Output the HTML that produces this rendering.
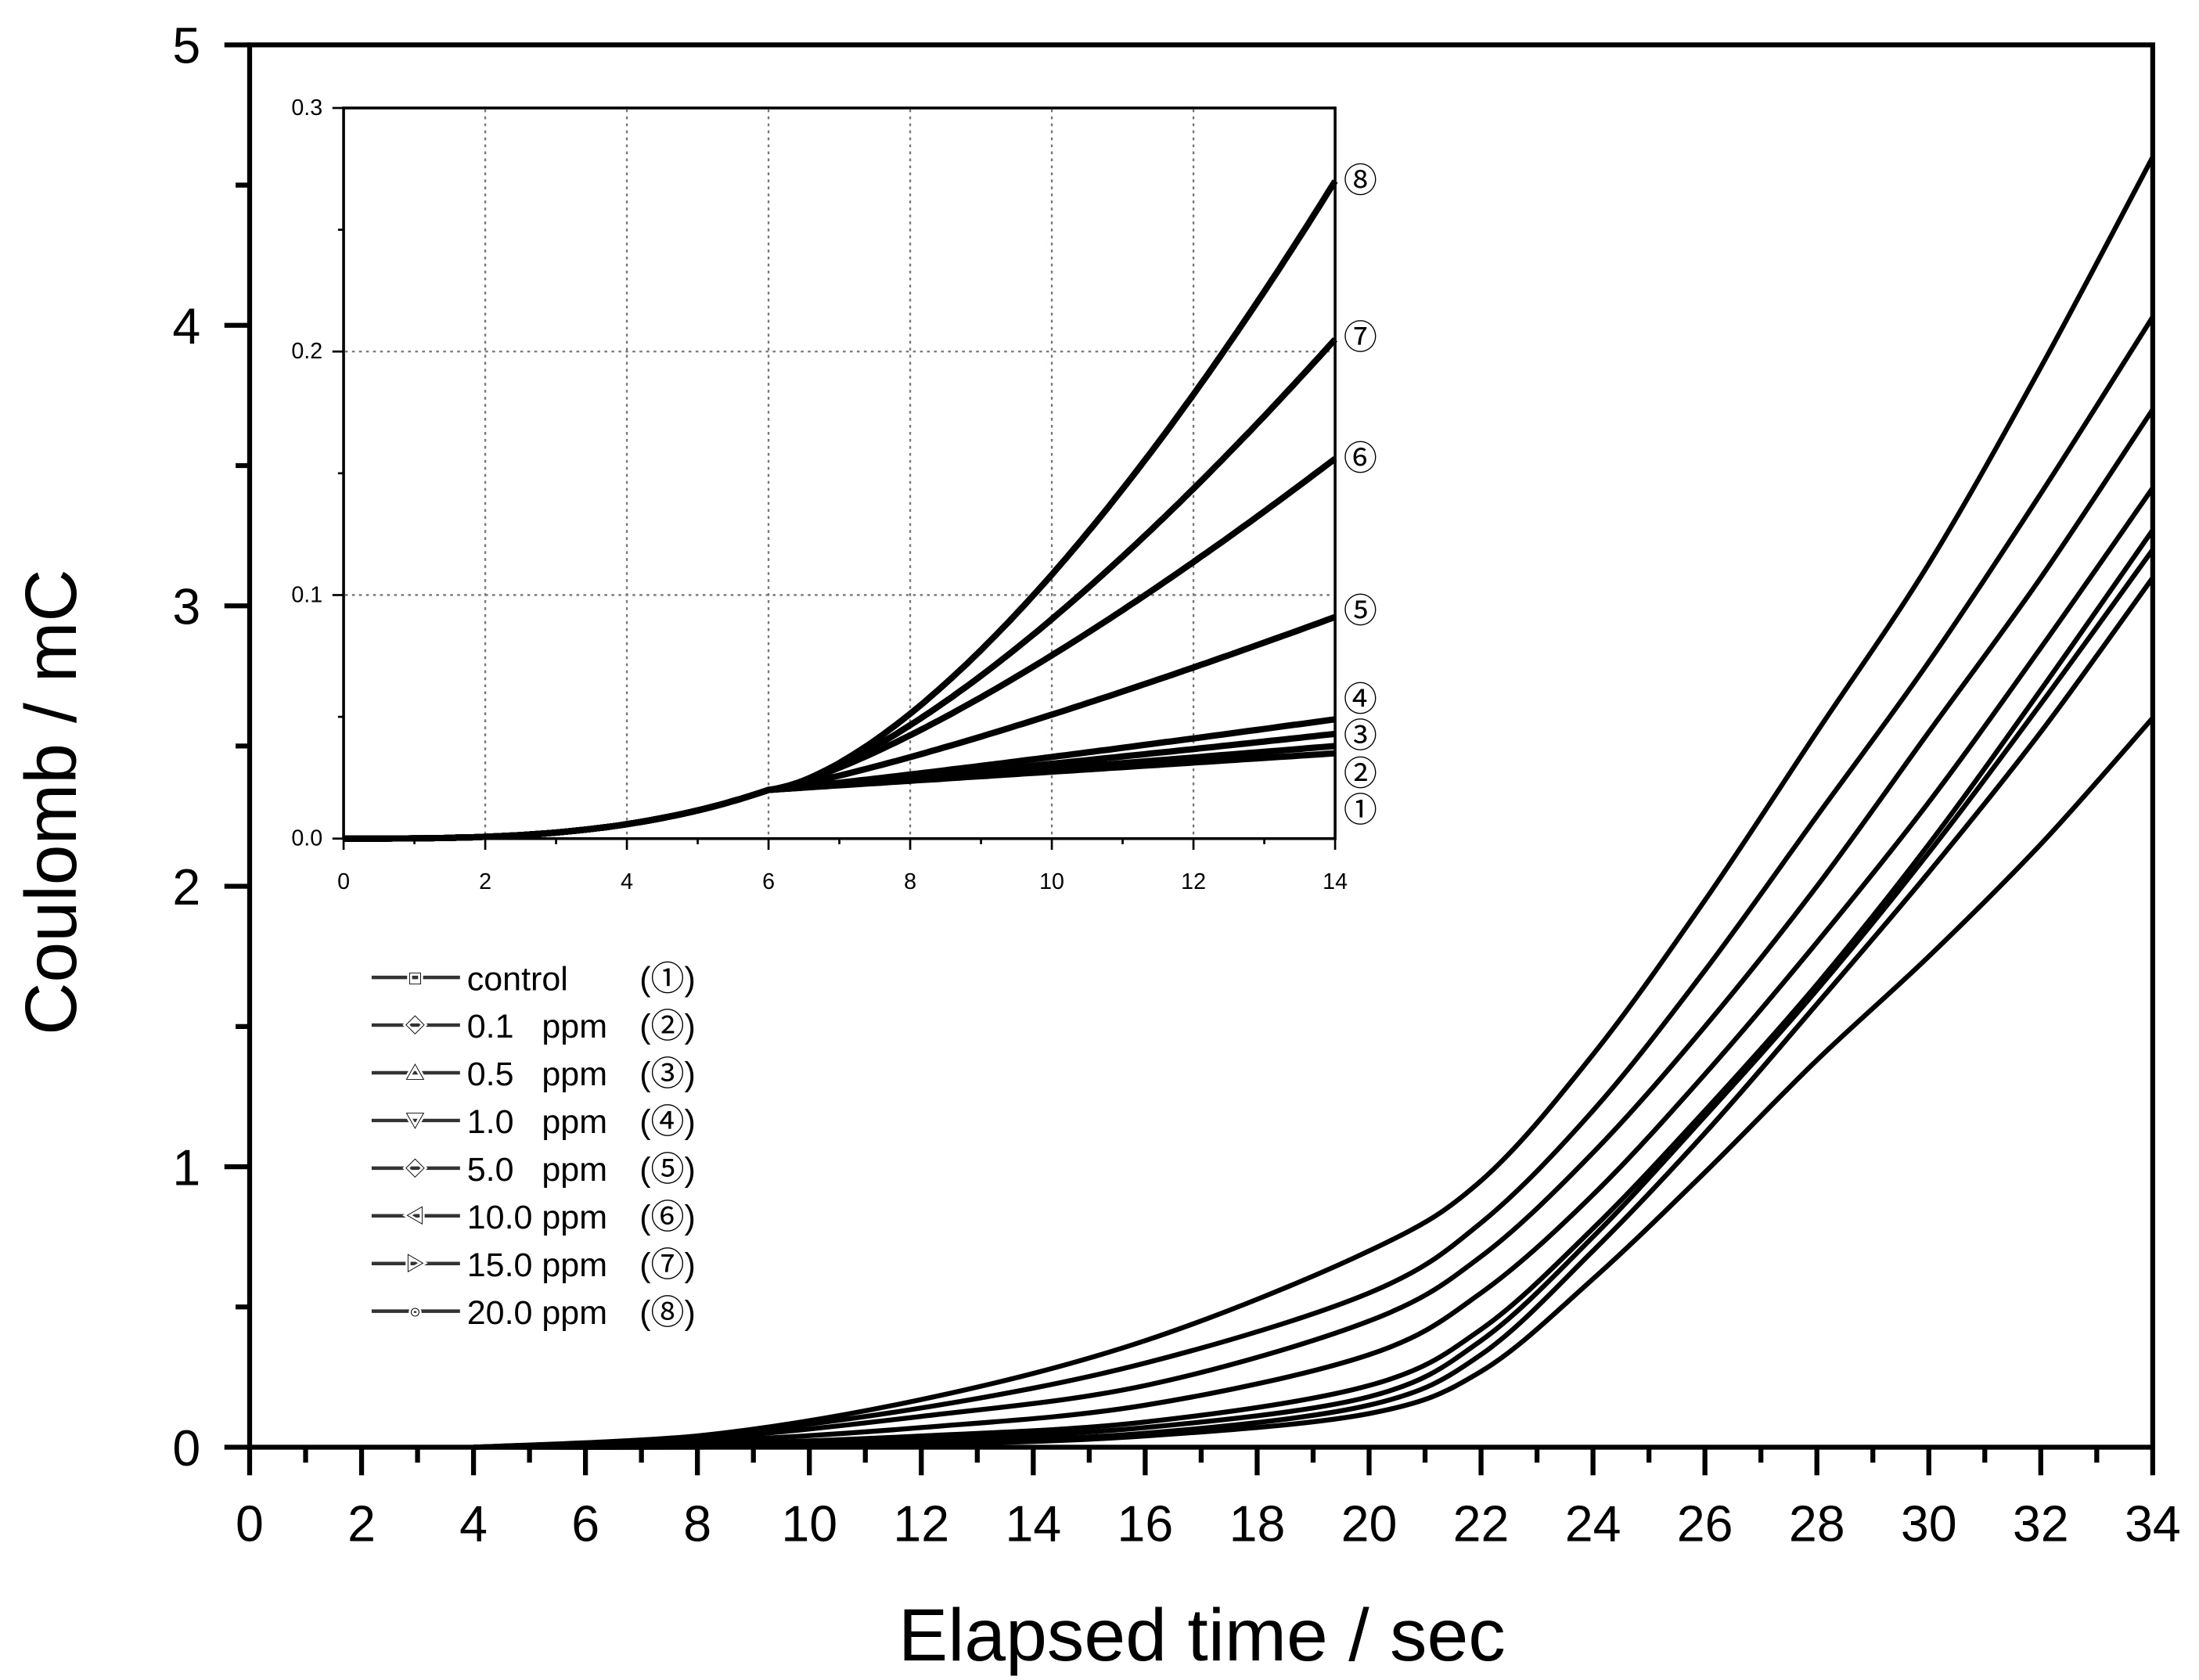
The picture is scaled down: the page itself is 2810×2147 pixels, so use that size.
<!DOCTYPE html>
<html><head><meta charset="utf-8"><style>
html,body{margin:0;padding:0;background:#fff;}
svg{display:block;}
text{font-family:"Liberation Sans","Noto Sans CJK JP",sans-serif;fill:#000;}
</style></head><body>
<svg id="s" width="2810" height="2147" viewBox="0 0 1568 1198" preserveAspectRatio="none" xmlns="http://www.w3.org/2000/svg">
<rect width="1568" height="1198" fill="#fff"/>
<g id="g"></g>
</svg>
<script>
const g=document.getElementById('g');let h='';
const X=t=>178+t*(1535-178)/34, Y=v=>1032-v*200;
h+=`<rect x="178" y="32" width="1357" height="1000" fill="none" stroke="#000" stroke-width="3.5"/>`;
for(let t=0;t<=34;t++){const x=X(t);const L=t%2==0?20:11;h+=`<line x1="${x}" y1="1032" x2="${x}" y2="${1032+L}" stroke="#000" stroke-width="3.5"/>`;
 if(t%2==0)h+=`<text x="${x}" y="1099" font-size="36" text-anchor="middle">${t}</text>`;}
for(let i=0;i<=10;i++){const y=Y(i/2);const L=i%2==0?18:10;h+=`<line x1="${178-L}" y1="${y}" x2="178" y2="${y}" stroke="#000" stroke-width="3.5"/>`;
 if(i%2==0)h+=`<text x="143" y="${y+13}" font-size="36" text-anchor="end">${i/2}</text>`;}
h+=`<text x="857" y="1184" font-size="53" text-anchor="middle">Elapsed time / sec</text>`;
h+=`<text transform="translate(54,572) rotate(-90)" font-size="52" text-anchor="middle">Coulomb / mC</text>`;
const T=[4,8,12,16,20,22,24,26,28,30,32,34];
const C=[[0,0.04,0.17,0.38,0.7,0.95,1.4,1.95,2.55,3.15,3.85,4.6],
[0,0.04,0.14,0.3,0.55,0.8,1.2,1.7,2.25,2.8,3.4,4.03],
[0,0.03,0.11,0.22,0.45,0.68,1.05,1.5,2.0,2.55,3.1,3.7],
[0,0.02,0.07,0.15,0.33,0.55,0.9,1.33,1.8,2.3,2.85,3.42],
[0,0.01,0.04,0.09,0.22,0.42,0.78,1.2,1.65,2.15,2.7,3.27],
[0,0.01,0.03,0.07,0.18,0.38,0.75,1.18,1.63,2.12,2.65,3.2],
[0,0.01,0.02,0.05,0.15,0.33,0.7,1.12,1.58,2.05,2.55,3.1],
[0,0,0.01,0.04,0.12,0.27,0.6,0.98,1.38,1.75,2.15,2.6]];
for(const c of C){let d='';for(let i=0;i<T.length;i++){const p1=[T[i],c[i]],p2=[T[Math.min(i+1,T.length-1)],c[Math.min(i+1,T.length-1)]];
 if(i==0){d+=`M${X(p1[0])},${Y(p1[1])}`;continue;}
 const pm=[T[Math.max(i-2,0)],c[Math.max(i-2,0)]];const a=[T[i-1],c[i-1]];
 const c1=[a[0]+(p1[0]-pm[0])/6,a[1]+(p1[1]-pm[1])/6],c2=[p1[0]-(p2[0]-a[0])/6,p1[1]-(p2[1]-a[1])/6];
 d+=`C${X(c1[0])},${Y(c1[1])} ${X(c2[0])},${Y(c2[1])} ${X(p1[0])},${Y(p1[1])}`;}
 h+=`<path d="${d}" fill="none" stroke="#000" stroke-width="3.5"/>`;}
const IX=t=>245+t*(952-245)/14, IY=v=>598-v*(521/0.3);
h+=`<rect x="245" y="77" width="707" height="521" fill="#fff" stroke="#000" stroke-width="2"/>`;
for(let t=2;t<=12;t+=2)h+=`<line x1="${IX(t)}" y1="78" x2="${IX(t)}" y2="597" stroke="#777" stroke-width="1.3" stroke-dasharray="2,3"/>`;
for(const v of [0.1,0.2])h+=`<line x1="246" y1="${IY(v)}" x2="951" y2="${IY(v)}" stroke="#777" stroke-width="1.3" stroke-dasharray="2,3"/>`;
for(let t=0;t<=14;t++){const x=IX(t);h+=`<line x1="${x}" y1="598" x2="${x}" y2="${598+(t%2==0?8:4)}" stroke="#000" stroke-width="1.5"/>`;if(t%2==0)h+=`<text x="${x}" y="634" font-size="16" text-anchor="middle" fill="#222">${t}</text>`;}
for(let i=0;i<=6;i++){const y=IY(i*0.05);h+=`<line x1="${245-(i%2==0?8:4)}" y1="${y}" x2="245" y2="${y}" stroke="#000" stroke-width="1.5"/>`;if(i%2==0)h+=`<text x="230" y="${y+5}" font-size="16" text-anchor="end">${(i*0.05).toFixed(1)}</text>`;}
const E=[[0.27,1.5],[0.205,1.4],[0.156,1.3],[0.091,1.2],[0.049,1.1],[0.043,1.1],[0.038,1.05],[0.035,1.0]];
for(const [e,q] of E){let d='';for(let t=0;t<=14;t+=0.1){let v=t<6?0.02*Math.pow(t/6,3):0.02+(e-0.02)*Math.pow((t-6)/8,q);d+=(d?'L':'M')+IX(t).toFixed(1)+','+IY(v).toFixed(1);}
 h+=`<path d="${d}" fill="none" stroke="#000" stroke-width="4.5"/>`;}
const lbl=[[129,'⑧'],[241,'⑦'],[327,'⑥'],[436,'⑤'],[499,'④'],[525,'③'],[552,'②'],[578,'①']];
for(const [y,s] of lbl)h+=`<text x="970" y="${y+8}" font-size="24" text-anchor="middle">${s}</text>`;
const L=[['control','(①)','□'],['0.1   ppm','(②)','◇'],['0.5   ppm','(③)','△'],['1.0   ppm','(④)','▽'],['5.0   ppm','(⑤)','◇'],['10.0 ppm','(⑥)','◁'],['15.0 ppm','(⑦)','▷'],['20.0 ppm','(⑧)','○']];
L.forEach((it,i)=>{const y=697+i*34;h+=`<line x1="265" y1="${y}" x2="328" y2="${y}" stroke="#333" stroke-width="2.5"/><text x="296" y="${y+5}" font-size="14" text-anchor="middle" fill="#555" style="paint-order:stroke" stroke="#fff" stroke-width="3">${it[2]}</text>`;
 h+=`<text x="333" y="${y+9}" font-size="24" xml:space="preserve">${it[0]}</text><text x="476" y="${y+9}" font-size="24" text-anchor="middle">${it[1]}</text>`;});
g.innerHTML=h;
</script>
</body></html>
